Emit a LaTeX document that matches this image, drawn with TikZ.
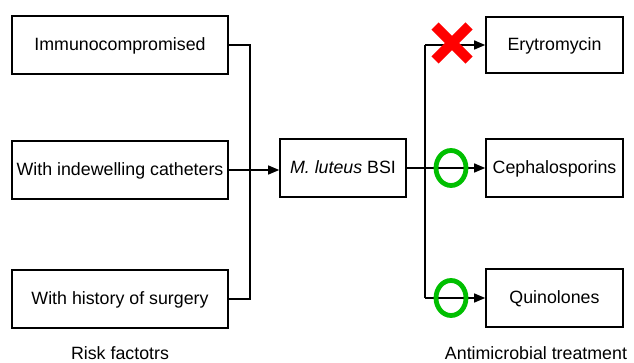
\documentclass[tikz,border=0pt]{standalone}
\usepackage{fontspec}
\setmainfont{Liberation Sans}
\usetikzlibrary{arrows.meta}
\begin{document}
\begin{tikzpicture}[x=1pt,y=-1pt,
  box/.style={draw, line width=1.6pt, minimum height=58pt, inner sep=0pt, text depth=1pt, font=\fontsize{17.8}{20}\selectfont},
  conn/.style={line width=1.4pt},
  arr/.style={conn, -{Triangle[length=11pt,width=9pt]}},
  lab/.style={font=\fontsize{17.8}{20}\selectfont},
  okmark/.style={draw=green!75!black, line width=4.8pt},
  nomark/.style={draw=red, line width=10pt}]
\useasboundingbox (0,0) rectangle (634,363);
\node[box, minimum width=216pt] (im) at (120,45) {Immunocompromised};
\node[box, minimum width=216pt] (ca) at (120,170) {With indewelling catheters};
\node[box, minimum width=216pt] (su) at (120,299) {With history of surgery};
\node[box, minimum width=126pt] (bsi) at (343,168) {\textit{M. luteus} BSI};
\node[box, minimum width=137pt, minimum height=56pt] (ery) at (554.5,45) {Erytromycin};
\node[box, minimum width=137pt, minimum height=58pt] (cep) at (554.5,168) {Cephalosporins};
\node[box, minimum width=137pt, minimum height=58pt] (qui) at (554.5,298) {Quinolones};
\coordinate (lj) at (250,0);
\coordinate (rj) at (425,0);
\draw[conn] (im.east) -- (im.east -| lj) -- (su.east -| lj) -- (su.east);
\draw[arr] (ca.east) -- (ca.east -| bsi.west);
\draw[conn] (bsi.east) -- (bsi.east -| rj);
\draw[arr] (ery.west -| rj) -- (ery.west);
\draw[arr] (bsi.east -| rj) -- (cep.west);
\draw[arr] (qui.west -| rj) -- (qui.west);
\draw[conn] (ery.west -| rj) -- (qui.west -| rj);
\draw[nomark] (435,26) -- (469,60);
\draw[nomark] (469,26) -- (435,60);
\draw[okmark] (451,168) ellipse [x radius=15, y radius=17.5];
\draw[okmark] (451,298) ellipse [x radius=15, y radius=17.5];
\node[lab] (rf) at (120,353) {Risk factotrs};
\node[lab] (at) at (536,353) {Antimicrobial treatment};
\end{tikzpicture}
\end{document}
